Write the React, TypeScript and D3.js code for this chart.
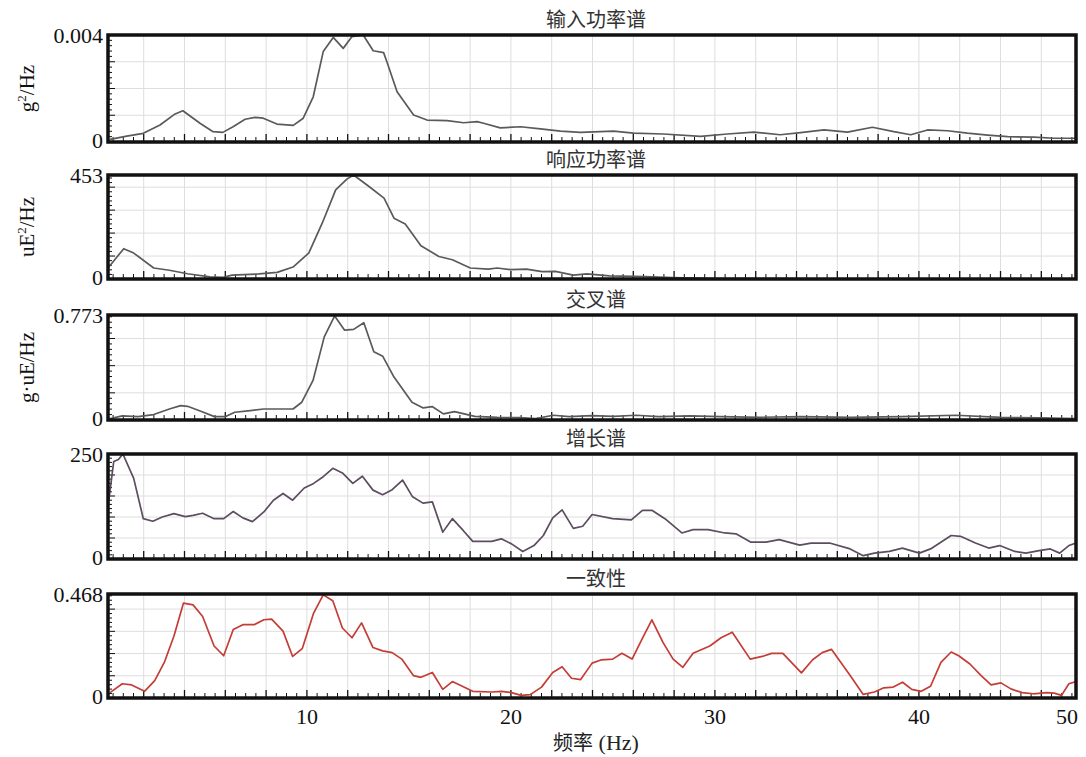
import React from "react";
import * as d3 from "d3";

// ---------- data ----------
const panelTitles = ["输入功率谱", "响应功率谱", "交叉谱", "增长谱", "一致性"];
const yTopLabels = ["0.004", "453", "0.773", "250", "0.468"];
const yMaxValues = [0.004, 453, 0.773, 250, 0.468];
const yGridValues = [
  [0.001, 0.002, 0.003],
  [100, 200, 300, 400],
  [0.2, 0.4, 0.6],
  [50, 100, 150, 200],
  [0.1, 0.2, 0.3, 0.4],
];
const yUnitParts: (string[] | null)[] = [
  ["g", "2", "/Hz"],
  ["uE", "2", "/Hz"],
  ["g·uE/Hz", "", ""],
  null,
  null,
];
const xTickValues = [10, 20, 30, 40, 50];
const xDomain = [0.25, 47.7];

// 输入功率谱 (g²/Hz)
const inputFreq = [0.35, 1.17, 1.98, 2.8, 3.54, 3.92, 4.76, 5.4, 5.88, 6.38, 6.97, 7.46, 7.86, 8.53, 9.33, 9.82, 10.31, 10.8, 11.29, 11.78, 12.21, 12.76, 13.25, 13.76, 13.92, 14.42, 15.23, 15.89, 16.87, 17.68, 18.34, 18.66, 19.48, 20.47, 21.45, 22.43, 23.41, 25.03, 26.01, 27.48, 29.3, 30.61, 31.9, 33.2, 34.2, 35.35, 36.5, 37.72, 38.77, 39.6, 40.42, 41.4, 42.38, 43.37, 44.35, 45.64, 46.62, 47.7];
const inputPsd = [0.0001, 0.00022, 0.000325, 0.000635, 0.00105, 0.00117, 0.0007, 0.000385, 0.00036, 0.00057, 0.00085, 0.00092, 0.00089, 0.00067, 0.00062, 0.00089, 0.00169, 0.00338, 0.00391, 0.0035, 0.00394, 0.004, 0.00341, 0.00334, 0.003, 0.00188, 0.00101, 0.00082, 0.0008, 0.00072, 0.00076, 0.0007, 0.00053, 0.00057, 0.00049, 0.00041, 0.00036, 0.00041, 0.00033, 0.0003, 0.00021, 0.0003, 0.00037, 0.00027, 0.00035, 0.00045, 0.00037, 0.00055, 0.000385, 0.00027, 0.00045, 0.00042, 0.00033, 0.00026, 0.0002, 0.00018, 0.00014, 0.00014];

// 响应功率谱 (uE²/Hz)
const responseFreq = [0.25, 1.02, 1.51, 2.49, 3.26, 4.15, 5.25, 5.89, 6.33, 7.66, 8.54, 9.32, 10.09, 10.75, 11.41, 11.96, 12.29, 13.06, 13.78, 14.27, 14.82, 15.59, 16.47, 17.13, 18.01, 18.89, 19.33, 19.98, 20.76, 21.53, 22.18, 23.06, 23.73, 24.83, 26.59, 27.91, 30, 35, 40, 47.7];
const responsePsd = [48, 132, 113, 48, 38, 23, 9, 7, 17, 22, 29, 52, 113, 243, 388, 435, 453, 402, 352, 265, 240, 145, 98, 84, 48, 43, 48, 41, 43, 32, 33, 17, 22, 14, 10, 6, 2, 1, 1, 1];

// 交叉谱 (g·uE/Hz)
const crossFreq = [0.25, 0.95, 1.72, 2.49, 3.26, 3.81, 4.15, 4.8, 5.47, 6.02, 6.46, 7.23, 7.88, 9.32, 9.75, 10.3, 10.85, 11.36, 11.84, 12.29, 12.79, 13.28, 13.72, 14.27, 15.15, 15.7, 16.14, 16.69, 17.24, 18.23, 19.33, 20.43, 21.2, 22.08, 22.85, 23.95, 25.04, 26.14, 27.24, 28.78, 30.28, 32.24, 34.2, 36.66, 39.11, 41.81, 44.02, 45.98, 47.7];
const crossPsd = [0.007, 0.03, 0.025, 0.04, 0.081, 0.106, 0.101, 0.064, 0.025, 0.025, 0.057, 0.069, 0.081, 0.081, 0.131, 0.291, 0.612, 0.766, 0.662, 0.667, 0.716, 0.502, 0.469, 0.316, 0.131, 0.089, 0.099, 0.045, 0.062, 0.027, 0.02, 0.017, 0.01, 0.035, 0.025, 0.032, 0.027, 0.035, 0.025, 0.03, 0.025, 0.02, 0.025, 0.02, 0.025, 0.035, 0.02, 0.015, 0.01];

// 增长谱
const gainFreq = [0.25, 0.53, 0.76, 0.98, 1.51, 1.98, 2.45, 2.91, 3.48, 4.04, 4.42, 4.89, 5.45, 5.92, 6.39, 6.86, 7.33, 7.89, 8.36, 8.83, 9.3, 9.87, 10.33, 10.8, 11.27, 11.74, 12.25, 12.72, 13.24, 13.71, 14.18, 14.69, 15.18, 15.69, 16.15, 16.66, 17.13, 17.66, 18.13, 19.06, 19.53, 20.03, 20.58, 21.13, 21.59, 22.05, 22.51, 23.06, 23.52, 23.98, 24.98, 25.9, 26.45, 26.91, 27.55, 28.38, 28.93, 29.66, 30.49, 31.03, 31.77, 32.5, 33.15, 34.16, 34.71, 35.62, 36.63, 37.27, 37.82, 38.55, 39.19, 40.02, 40.57, 41.58, 42.04, 42.77, 43.42, 43.96, 44.7, 45.24, 45.89, 46.44, 46.9, 47.35, 47.7];
const gainValues = [124, 232, 237, 250, 192, 96, 90, 100, 108, 101, 104, 109, 96, 96, 113, 98, 89, 112, 140, 156, 140, 169, 180, 196, 216, 205, 180, 197, 164, 153, 165, 188, 148, 133, 136, 64, 96, 68, 42, 42, 48, 36, 18, 32, 56, 98, 117, 73, 78, 106, 96, 93, 116, 116, 96, 62, 70, 70, 62, 60, 40, 40, 46, 33, 38, 38, 24, 8, 14, 18, 26, 14, 24, 56, 54, 38, 26, 32, 18, 14, 20, 24, 14, 32, 38];

// 一致性
const coherenceFreq = [0.35, 0.95, 1.41, 2.04, 2.54, 3.01, 3.48, 3.95, 4.42, 4.89, 5.45, 5.92, 6.39, 6.86, 7.42, 7.89, 8.27, 8.83, 9.3, 9.77, 10.33, 10.8, 11.27, 11.74, 12.21, 12.68, 13.24, 13.71, 14.18, 14.65, 15.22, 15.59, 16.15, 16.66, 17.13, 18.13, 19.06, 19.53, 20.03, 20.5, 20.95, 21.5, 22.05, 22.51, 22.97, 23.42, 23.98, 24.44, 24.99, 25.44, 25.94, 26.42, 26.91, 27.46, 27.95, 28.43, 28.93, 29.75, 30.3, 30.85, 31.73, 32.32, 32.78, 33.33, 34.24, 34.79, 35.26, 35.71, 36.63, 37.27, 37.82, 38.28, 38.74, 39.2, 39.65, 40.11, 40.57, 41.08, 41.58, 41.95, 42.5, 43.05, 43.54, 44.02, 44.51, 45.06, 45.61, 46.26, 46.63, 46.99, 47.35, 47.7];
const coherenceValues = [0.024, 0.064, 0.059, 0.03, 0.078, 0.16, 0.278, 0.427, 0.419, 0.367, 0.234, 0.19, 0.308, 0.33, 0.33, 0.352, 0.355, 0.301, 0.187, 0.222, 0.382, 0.464, 0.438, 0.315, 0.271, 0.338, 0.227, 0.212, 0.204, 0.175, 0.101, 0.093, 0.115, 0.039, 0.074, 0.03, 0.027, 0.03, 0.024, 0.012, 0.015, 0.049, 0.115, 0.141, 0.089, 0.083, 0.157, 0.172, 0.175, 0.201, 0.175, 0.264, 0.352, 0.249, 0.175, 0.138, 0.201, 0.234, 0.271, 0.296, 0.175, 0.187, 0.201, 0.201, 0.113, 0.172, 0.204, 0.219, 0.101, 0.016, 0.027, 0.046, 0.049, 0.071, 0.039, 0.03, 0.053, 0.16, 0.207, 0.19, 0.153, 0.101, 0.059, 0.068, 0.041, 0.024, 0.019, 0.024, 0.022, 0.012, 0.064, 0.074];

const seriesFreqs = [inputFreq, responseFreq, crossFreq, gainFreq, coherenceFreq];
const seriesValues = [inputPsd, responsePsd, crossPsd, gainValues, coherenceValues];
const xAxisTitle = ["频率", " (Hz)"];

// ---------- layout / style ----------
const W = 1086;
const H = 757;
const LEFT = 108;
const RIGHT = 1076;
const panelTops = [35, 175, 315, 454, 594];
const panelBottoms = [142, 279, 420, 559, 698];
const lineColors = ["#5a5a5a", "#5a5a5a", "#5a5a5a", "#5c4d60", "#c43d36"];
const SERIF = "Liberation Serif, Tinos, DejaVu Serif, serif";
const CJK = "Noto Sans CJK SC, Noto Sans, sans-serif";

export default function App() {
  const x = d3.scaleLinear().domain(xDomain).range([LEFT, RIGHT]);
  const gridFreqs = d3.range(2, xDomain[1], 2);
  const minorFreqs = d3.range(0.5, xDomain[1], 0.5);

  return (
    <svg
      width={W}
      height={H}
      viewBox={`0 0 ${W} ${H}`}
      style={{ position: "absolute", left: 0, top: 0, background: "#fff" }}
    >
      {panelTitles.map((title, i) => {
        const top = panelTops[i];
        const bottom = panelBottoms[i];
        const y = d3.scaleLinear().domain([0, yMaxValues[i]]).range([bottom, top]);
        const pts = seriesFreqs[i].map((f, k) => [f, seriesValues[i][k]] as [number, number]);
        const line = d3
          .line<[number, number]>()
          .x((d) => x(d[0]))
          .y((d) => y(d[1]));
        const gridStep = yGridValues[i][0];
        const minorY = d3.range(gridStep / 5, yMaxValues[i], gridStep / 5);
        const clipId = `clip-${i}`;
        const unit = yUnitParts[i];
        const midY = (top + bottom) / 2;
        return (
          <g key={i}>
            <defs>
              <clipPath id={clipId}>
                <rect x={LEFT} y={top} width={RIGHT - LEFT} height={bottom - top} />
              </clipPath>
            </defs>
            <text
              x={(LEFT + RIGHT) / 2 + 4}
              y={top - 8}
              textAnchor="middle"
              style={{ fontFamily: CJK, fontSize: 20 }}
              fill="#333"
            >
              {title}
            </text>
            <g stroke="#dedede" strokeWidth={1}>
              {gridFreqs.map((f) => (
                <line key={"v" + f} x1={x(f)} x2={x(f)} y1={top} y2={bottom} />
              ))}
              {yGridValues[i].map((v) => (
                <line key={"h" + v} x1={LEFT} x2={RIGHT} y1={y(v)} y2={y(v)} />
              ))}
            </g>
            <g stroke="#111" strokeWidth={1}>
              {minorFreqs.map((f) => {
                const major = Math.abs(f / 2 - Math.round(f / 2)) < 1e-6;
                return (
                  <line
                    key={"bt" + f}
                    x1={x(f)}
                    x2={x(f)}
                    y1={bottom}
                    y2={bottom - (major ? 8 : 5)}
                    strokeWidth={major ? 1.3 : 1}
                  />
                );
              })}
              {minorY.map((v, k) => {
                const major = (k + 1) % 5 === 0;
                return (
                  <line
                    key={"lt" + k}
                    x1={LEFT}
                    x2={LEFT + (major ? 7 : 4)}
                    y1={y(v)}
                    y2={y(v)}
                  />
                );
              })}
            </g>
            <path
              d={line(pts) || ""}
              fill="none"
              stroke={lineColors[i]}
              strokeWidth={1.7}
              strokeLinejoin="round"
              clipPath={`url(#${clipId})`}
            />
            <rect
              x={LEFT}
              y={top}
              width={RIGHT - LEFT}
              height={bottom - top}
              fill="none"
              stroke="#111"
              strokeWidth={3.5}
            />
            <text
              x={LEFT - 5}
              y={y(yMaxValues[i]) + 8}
              textAnchor="end"
              style={{ fontFamily: SERIF, fontSize: 22 }}
              fill="#111"
            >
              {yTopLabels[i]}
            </text>
            <text
              x={LEFT - 5}
              y={y(0) + 6}
              textAnchor="end"
              style={{ fontFamily: SERIF, fontSize: 22 }}
              fill="#111"
            >
              0
            </text>
            {unit && (
              <text
                transform={`translate(34, ${midY}) rotate(-90)`}
                textAnchor="middle"
                style={{ fontFamily: SERIF, fontSize: 21 }}
                fill="#111"
              >
                {unit[0]}
                {unit[1] && (
                  <tspan style={{ fontSize: 13 }} dy={-8}>
                    {unit[1]}
                  </tspan>
                )}
                {unit[1] ? <tspan dy={8}>{unit[2]}</tspan> : unit[2]}
              </text>
            )}
          </g>
        );
      })}
      {xTickValues.map((v) => {
        const clamped = v > xDomain[1];
        return (
          <text
            key={"xt" + v}
            x={clamped ? RIGHT + 2 : x(v)}
            y={724}
            textAnchor={clamped ? "end" : "middle"}
            style={{ fontFamily: SERIF, fontSize: 22 }}
            fill="#111"
          >
            {v}
          </text>
        );
      })}
      <text x={596} y={750} textAnchor="middle" fill="#222">
        <tspan style={{ fontFamily: CJK, fontSize: 20 }}>{xAxisTitle[0]}</tspan>
        <tspan style={{ fontFamily: SERIF, fontSize: 22 }}>{xAxisTitle[1]}</tspan>
      </text>
    </svg>
  );
}
